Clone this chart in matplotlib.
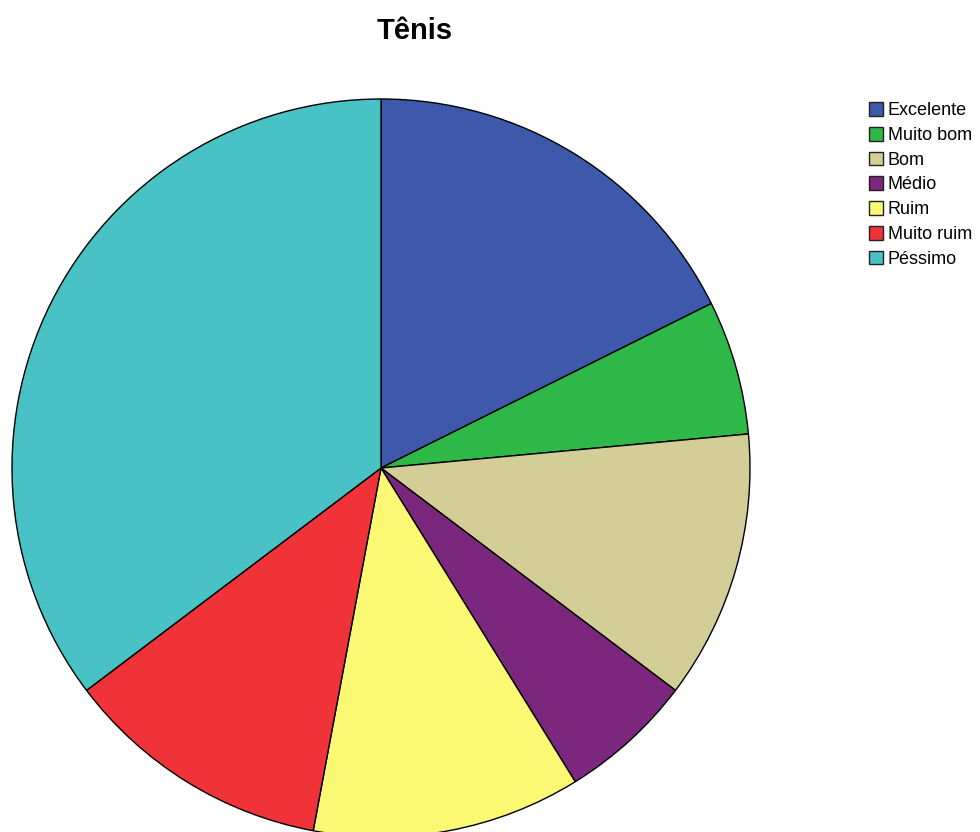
import matplotlib.pyplot as plt
from matplotlib.patches import Patch

# Tennis ratings (counts per category)
categories = ['Excelente', 'Muito bom', 'Bom', 'Médio', 'Ruim', 'Muito ruim', 'Péssimo']
counts = [3, 1, 2, 1, 2, 2, 6]
colors = ['#3E58AC', '#2EB848', '#D3CE97', '#7B277D', '#FBF873', '#EF3338', '#48C2C5']

plt.rcParams['font.family'] = ['Liberation Sans', 'DejaVu Sans']

fig = plt.figure(figsize=(9.8, 8.32), dpi=100)
ax = fig.add_axes([12 / 980, -5 / 832, 738 / 980, 738 / 832])
ax.pie(counts, colors=colors, startangle=90, counterclock=False, radius=1,
       wedgeprops={'edgecolor': 'black', 'linewidth': 1.0})
ax.set_xlim(-1, 1)
ax.set_ylim(-1, 1)
ax.set_axis_off()

fig.text(415 / 980, 1 - 31 / 832, 'Tênis', ha='center', va='center',
         fontsize=21, fontweight='bold')

handles = [Patch(facecolor=c, edgecolor='#222222', linewidth=1.0) for c in colors]
fig.legend(handles, categories, loc='upper left',
           bbox_to_anchor=(869 / 980, 1 - 102 / 832), frameon=False,
           fontsize=13, handlelength=0.8, handleheight=0.8,
           handletextpad=0.25, labelspacing=0.42, borderpad=0, borderaxespad=0)

fig.savefig('out.png', dpi=100)
